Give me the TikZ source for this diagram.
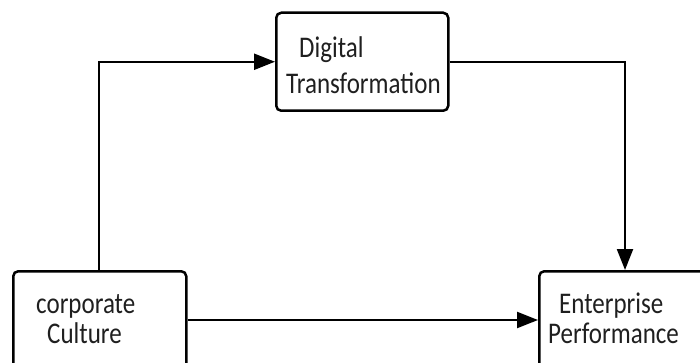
\documentclass[tikz,border=0pt]{standalone}
\usepackage{fontspec}
\setmainfont{Carlito}
\usetikzlibrary{arrows.meta}
\begin{document}
\begin{tikzpicture}[x=1pt,y=1pt,
  box/.style={draw, line width=2.5pt, rounded corners=5pt, inner sep=0pt},
  link/.style={line width=2.2pt, -{Triangle[length=21pt,width=16pt]}},
  lbl/.style={font=\fontsize{25}{30}\selectfont, text=black!88, anchor=base west, inner sep=0pt, yscale=1.2, transform shape}]
\useasboundingbox (0,0) rectangle (700,362);
\clip (0,0) rectangle (700,362);
% boxes
\node[box, anchor=south west, minimum width=172pt, minimum height=98pt] (dt) at (275,250) {};
\node[box, anchor=north west, minimum width=173pt, minimum height=130pt] (cc) at (12,92) {};
\node[box, anchor=north west, minimum width=200pt, minimum height=130pt] (ep) at (538,92) {};
% labels
\node[lbl] (dt1) at (299,304) {Digital};
\node[lbl] (dt2) at (286,268) {Transformation};
\node[lbl] (cc1) at (36,49) {corporate};
\node[lbl] (cc2) at (47,19) {Culture};
\node[lbl] (ep1) at (559,49) {Enterprise};
\node[lbl] (ep2) at (548,19) {Performance};
% connectors
\coordinate (ccout) at (99,92);
\coordinate (epin) at (625,92);
\coordinate (lvl) at (0,42);
\draw[link] (ccout) |- (dt.west);
\draw[link] (dt.east) -| (epin);
\draw[link] (cc.east |- lvl) -- (ep.west |- lvl);
\end{tikzpicture}
\end{document}
